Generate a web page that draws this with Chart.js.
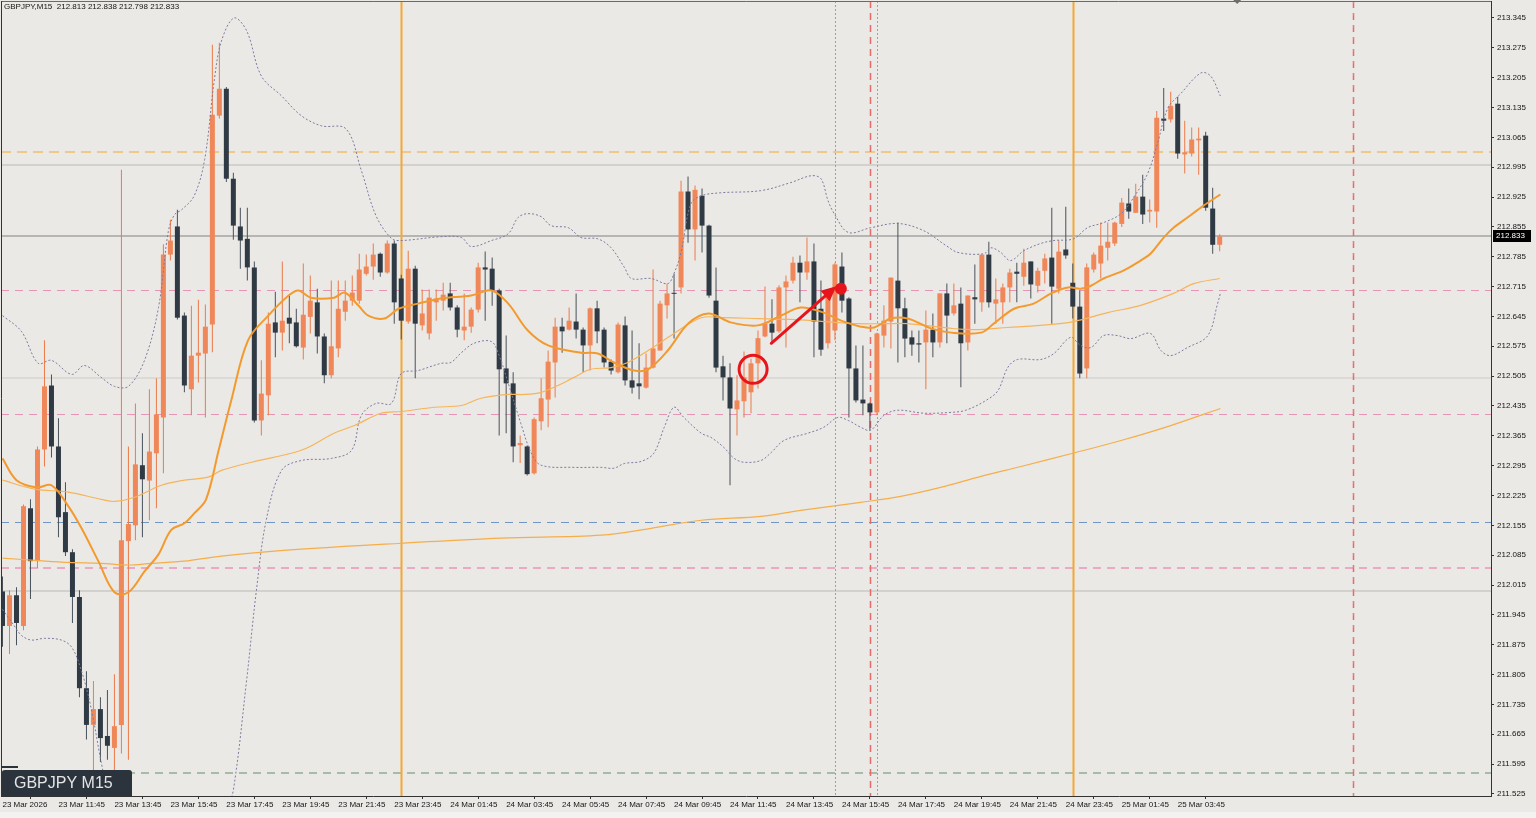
<!DOCTYPE html>
<html><head><meta charset="utf-8">
<script src="https://cdn.jsdelivr.net/npm/chart.js@4.4.1/dist/chart.umd.min.js"></script>
<style>
html,body{margin:0;padding:0;background:#EBE9E5;overflow:hidden;}
canvas{display:block;}
</style></head><body>
<canvas id="c" width="1536" height="818"></canvas>
<script>
// ---------------- DATA ----------------
const symbolTitle = 'GBPJPY,M15  212.813 212.838 212.798 212.833';
const symbolLabel = 'GBPJPY M15';

const opens = [212.000,211.919,211.991,211.919,212.195,212.071,212.333,212.483,212.340,212.186,
212.092,211.987,211.773,211.687,211.724,211.661,211.633,211.687,212.118,212.155,
212.296,212.260,212.324,212.408,212.790,212.856,212.647,212.474,212.553,212.558,
212.626,213.116,213.179,212.968,212.856,212.827,212.760,212.401,212.460,212.631,
212.607,212.642,212.631,212.572,212.644,212.678,212.598,212.507,212.570,212.656,
212.682,212.682,212.745,212.762,212.792,212.748,212.816,212.734,212.633,212.757,
212.624,212.605,212.678,212.682,212.699,212.666,212.612,212.621,212.661,212.760,
212.757,212.706,212.523,212.488,212.343,212.340,212.277,212.399,212.450,212.537,
212.621,212.614,212.633,212.614,212.577,212.664,212.614,212.539,212.514,212.624,
212.495,212.488,212.478,212.525,212.565,212.671,212.700,212.713,212.938,212.849,
212.928,212.858,212.682,212.528,212.502,212.427,212.446,212.467,212.535,212.598,
212.628,212.610,212.713,212.729,212.771,212.748,212.774,212.663,212.582,212.612,
212.762,212.687,212.523,212.450,212.441,212.420,212.600,212.633,212.729,212.664,
212.596,212.582,212.584,212.614,212.584,212.699,212.652,212.675,212.584,212.690,
212.678,212.790,212.675,212.678,212.713,212.750,212.738,212.774,212.717,212.752,
212.783,212.710,212.802,212.724,212.668,212.523,212.755,212.769,212.806,212.816,
212.862,212.910,212.888,212.926,212.891,212.891,213.109,213.107,213.144,213.025,
213.027,213.058,213.069,212.898,212.813];
const highs = [212.035,212.003,212.010,212.204,212.216,212.340,212.589,212.509,212.406,212.256,
212.099,212.003,211.813,211.790,211.752,211.769,211.806,212.989,212.340,212.441,
212.371,212.474,212.500,212.814,212.872,212.895,212.654,212.670,212.684,212.673,
213.282,213.287,213.183,212.982,212.900,212.900,212.774,212.542,212.654,212.703,
212.774,212.694,212.663,212.769,212.741,212.710,212.605,212.729,212.729,212.729,
212.741,212.792,212.790,212.816,212.795,212.823,212.823,212.743,212.799,212.764,
212.708,212.708,212.708,212.724,212.724,212.671,212.699,212.666,212.771,212.797,
212.783,212.710,212.600,212.514,212.366,212.342,212.408,212.500,212.565,212.642,
212.642,212.666,212.699,212.619,212.666,212.682,212.619,212.544,212.631,212.645,
212.612,212.582,212.558,212.755,212.682,212.722,212.745,212.963,212.973,212.952,
212.945,212.860,212.760,212.553,212.535,212.507,212.563,212.546,212.612,212.715,
212.685,212.718,212.741,212.785,212.788,212.830,212.816,212.729,212.706,212.771,
212.795,212.690,212.577,212.577,212.443,212.607,212.671,212.736,212.865,212.689,
212.612,212.612,212.659,212.652,212.699,212.722,212.722,212.713,212.694,212.767,
212.790,212.820,212.734,212.722,212.757,212.771,212.804,212.774,212.759,212.792,
212.900,212.823,212.902,212.769,212.706,212.769,212.795,212.865,212.865,212.867,
212.923,212.945,212.956,212.977,212.919,213.127,213.181,213.172,213.160,213.104,
213.088,213.088,213.078,212.947,212.838];
const lows = [211.870,211.853,211.874,211.909,211.982,212.054,212.293,212.314,212.127,212.083,
211.926,211.752,211.653,211.560,211.600,211.605,211.567,211.620,211.605,212.120,
212.127,212.167,212.195,212.277,212.776,212.638,212.467,212.413,212.490,212.408,
212.561,213.109,212.960,212.825,212.757,212.729,212.396,212.366,212.413,212.549,
212.565,212.582,212.572,212.544,212.605,212.558,212.488,212.500,212.549,212.635,
212.670,212.675,212.741,212.731,212.738,212.745,212.628,212.591,212.628,212.500,
212.612,212.591,212.635,212.659,212.659,212.596,212.589,212.607,212.654,212.635,
212.670,212.366,212.371,212.303,212.301,212.272,212.274,212.378,212.385,212.455,
212.560,212.612,212.593,212.514,212.518,212.582,212.525,212.509,212.511,212.483,
212.464,212.451,212.476,212.523,212.565,212.640,212.593,212.699,212.818,212.776,
212.795,212.689,212.514,212.448,212.249,212.366,212.408,212.418,212.476,212.596,
212.582,212.607,212.572,212.722,212.678,212.731,212.549,212.553,212.570,212.589,
212.654,212.408,212.443,212.413,212.378,212.413,212.572,212.570,212.537,212.549,
212.553,212.537,212.474,212.549,212.572,212.582,212.647,212.479,212.565,212.628,
212.656,212.666,212.628,212.628,212.678,212.678,212.717,212.687,212.701,212.722,
212.628,212.699,212.780,212.640,212.500,212.500,212.748,212.734,212.776,212.810,
212.855,212.874,212.888,212.862,212.865,212.853,213.080,213.100,213.015,212.980,
213.020,212.977,212.893,212.792,212.798];
const closes = [211.919,211.991,211.926,212.200,212.071,212.333,212.481,212.340,212.174,212.092,
211.987,211.773,211.687,211.724,211.656,211.638,211.684,212.120,212.158,212.298,
212.263,212.328,212.415,212.790,212.823,212.642,212.483,212.553,212.560,212.621,
213.118,213.179,212.968,212.858,212.823,212.760,212.401,212.464,212.628,212.607,
212.635,212.628,212.575,212.649,212.682,212.598,212.507,212.575,212.663,212.682,
212.701,212.755,212.762,212.790,212.748,212.816,212.678,212.635,212.757,212.628,
212.652,212.689,212.687,212.696,212.666,212.614,212.621,212.661,212.760,212.755,
212.706,212.521,212.488,212.340,212.348,212.275,212.404,212.453,212.539,212.621,
212.610,212.635,212.614,212.577,212.664,212.610,212.537,212.518,212.626,212.495,
212.478,212.481,212.525,212.570,212.675,212.699,212.698,212.938,212.849,212.942,
212.858,212.694,212.525,212.502,212.429,212.448,212.502,212.535,212.594,212.628,
212.607,212.713,212.727,212.771,212.748,212.774,212.633,212.567,212.706,212.767,
212.682,212.523,212.448,212.441,212.420,212.605,212.635,212.736,212.664,212.593,
212.579,212.579,212.614,212.584,212.699,212.647,212.671,212.582,212.694,212.685,
212.790,212.678,212.685,212.713,212.748,212.745,212.771,212.720,212.752,212.781,
212.715,212.797,212.788,212.668,212.511,212.760,212.790,212.811,212.820,212.865,
212.912,212.891,212.926,212.884,212.895,213.111,213.104,213.139,213.027,213.030,
213.060,213.062,212.900,212.813,212.833];

// indicator lines: [bar index, price]
const maFast = [[0,212.312],[2,212.261],[4.9,212.244],[7,212.249],[9.4,212.200],[11.3,212.148],[13.7,212.071],[16,211.998],[18,211.998],[20.3,212.047],[22.3,212.087],[24.1,212.144],[26,212.160],[27.4,212.183],[29.1,212.216],[30.9,212.331],[32.7,212.448],[35.1,212.589],[38,212.647],[40.9,212.694],[42.3,212.706],[44.1,212.689],[47.4,212.689],[48.9,212.701],[50.9,212.670],[52.3,212.647],[54.6,212.640],[56.6,212.663],[59.4,212.675],[62.7,212.687],[67,212.694],[69.9,212.706],[72.3,212.675],[75.1,212.612],[78,212.577],[82.7,212.560],[85.1,212.558],[87.4,212.537],[90.3,212.518],[92.3,212.521],[95.1,212.565],[98,212.628],[100.9,212.652],[104.1,212.631],[108,212.624],[111.3,212.647],[114.1,212.666],[117.4,212.654],[119.9,212.635],[122.7,212.621],[124.6,212.619],[127,212.640],[129.4,212.640],[132.7,212.617],[135.6,212.607],[139.9,212.607],[141.7,212.628],[144.6,212.663],[147.4,212.675],[149.9,212.699],[152.3,212.713],[154.1,212.710],[155.6,212.717],[157.4,212.734],[160.3,212.753],[162.7,212.776],[164.1,212.792],[166,212.830],[167.4,212.853],[169.4,212.877],[171.7,212.905],[174.1,212.931]];
const maMid = [[0,212.261],[4.6,212.240],[9.4,212.233],[14.1,212.216],[16,212.211],[18.9,212.221],[22.7,212.249],[26,212.261],[29.4,212.268],[31.3,212.284],[35.6,212.303],[42.7,212.331],[47.4,212.371],[50.3,212.389],[54.1,212.418],[57,212.422],[61.7,212.432],[65.6,212.436],[68.4,212.453],[72.3,212.462],[74.6,212.462],[77,212.467],[79.4,212.483],[81.7,212.502],[84.1,212.521],[87,212.525],[89.4,212.537],[92.3,212.565],[96,212.605],[99.9,212.642],[103.1,212.642],[108,212.640],[112.7,212.638],[117.4,212.633],[122.3,212.628],[126,212.628],[129.4,212.628],[135.6,212.617],[138.9,212.614],[143.7,212.619],[148.4,212.624],[153.1,212.633],[158,212.654],[162.7,212.671],[167.4,212.699],[170.3,212.722],[174,212.734]];
const maSlow = [[0,212.078],[4.6,212.073],[9.4,212.068],[14.1,212.066],[18,212.062],[21.3,212.066],[26,212.071],[31.3,212.083],[42.7,212.099],[57,212.113],[71.3,212.125],[85.6,212.132],[92.7,212.148],[99.9,212.167],[108.4,212.176],[114.1,212.190],[122.7,212.209],[128.4,212.223],[134.1,212.244],[139.9,212.270],[145.6,212.293],[153,212.324],[159.9,212.354],[167,212.389],[174.1,212.429]];
const bbUpper = [[0,212.647],[2.7,212.610],[5.1,212.535],[7,212.542],[9.9,212.509],[11.7,212.530],[14.1,212.502],[16,212.481],[18,212.481],[20.3,212.542],[22.3,212.666],[23.7,212.844],[24.6,212.884],[25.6,212.895],[27.4,212.928],[28.9,213.013],[30.3,213.202],[31.3,213.291],[33.1,213.345],[34.9,213.315],[37,213.209],[39.9,213.162],[42.7,213.116],[45.6,213.092],[49.1,213.085],[51.3,212.987],[53.4,212.881],[55.6,212.828],[57,212.823],[62.7,212.832],[65.6,212.830],[67,212.809],[69.9,212.823],[72.3,212.839],[73.7,212.877],[75.1,212.886],[77,212.879],[78.4,212.858],[80.9,212.853],[82.7,212.830],[85.1,212.827],[87,212.806],[88.9,212.760],[89.9,212.734],[92.7,212.734],[95.1,212.722],[96,212.746],[97,212.795],[98.4,212.909],[99.9,212.928],[102.7,212.935],[108.4,212.940],[112.7,212.959],[115.6,212.975],[117,212.968],[118,212.917],[118.9,212.886],[120.9,212.842],[124.1,212.853],[128,212.863],[131.7,212.846],[134.9,212.811],[136.6,212.795],[140.3,212.792],[141.3,212.806],[142.7,212.795],[144.1,212.776],[146,212.799],[148.4,212.816],[150.3,212.823],[153.1,212.827],[155.1,212.853],[157.4,212.865],[159.9,212.886],[161.7,212.924],[163.7,212.980],[165.1,213.050],[166.6,213.134],[168.4,213.167],[171.3,213.216],[172.7,213.209],[174.1,213.162]];
const bbLower = [[0,211.958],[1.7,211.919],[2.7,211.897],[4.1,211.886],[6,211.890],[8.4,211.886],[9.9,211.869],[11.3,211.813],[12.7,211.724],[14.1,211.600],[15.3,211.511],[17,211.417],[19.9,211.324],[23.4,211.277],[27,211.300],[29.9,211.394],[32,211.488],[33,211.534],[34.9,211.792],[36.3,212.003],[37.7,212.167],[39.9,212.284],[42.7,212.307],[47,212.312],[49.9,212.331],[51.3,212.413],[53.4,212.441],[55.6,212.441],[57,212.511],[59.4,212.518],[62.7,212.535],[64.1,212.537],[65.6,212.560],[67.4,212.582],[69.9,212.586],[71,212.553],[72.3,212.488],[74.1,212.394],[75.6,212.324],[77,212.296],[81.7,212.291],[85.6,212.291],[87.4,212.289],[88.9,212.300],[91.3,212.305],[93.1,212.324],[94.6,212.385],[96,212.432],[97.4,212.408],[99.9,212.371],[101.3,212.361],[103.1,212.338],[104.6,212.312],[106,212.303],[108.4,212.307],[109.9,212.326],[111.7,212.354],[115.1,212.371],[117.4,212.385],[119.4,212.408],[120.9,212.401],[122.7,212.385],[124.1,212.378],[126,212.413],[128,212.425],[131.7,212.418],[135.6,212.420],[137.7,212.425],[140.6,212.448],[142.3,212.471],[143.7,212.525],[145.1,212.544],[148.4,212.544],[150.3,212.558],[152.7,212.596],[154.1,212.577],[155.6,212.572],[157.4,212.600],[159.4,212.600],[161.3,212.593],[164.1,212.605],[165.6,212.565],[167,212.553],[169.4,212.572],[172.3,212.600],[173.7,212.675],[174.1,212.699]];

// horizontal levels (prices) and vertical markers (bar indexes)
const hLevels = [213.031, 213.000, 212.833, 212.708, 212.500, 212.415, 212.162, 212.054, 212.000, 211.574];
const daySeparators = [57, 153];
const dottedMarkers = [119, 125];
const redMarkers = [124, 193];

// annotation anchors [bar index, price]
const circleAt = [107.3, 212.521];
const arrowFrom = [109.9, 212.582];
const arrowTo = [119.2, 212.716];
const dotAt = [119.85, 212.710];
const shiftMarkerIdx = 176.5;

// axis ticks
const xTickIdx = [0,8,16,24,32,40,48,56,64,72,80,88,96,104,112,120,128,136,144,152,160,168];
const xTickLabels = ['23 Mar 2026','23 Mar 11:45','23 Mar 13:45','23 Mar 15:45','23 Mar 17:45','23 Mar 19:45','23 Mar 21:45','23 Mar 23:45','24 Mar 01:45','24 Mar 03:45','24 Mar 05:45','24 Mar 07:45','24 Mar 09:45','24 Mar 11:45','24 Mar 13:45','24 Mar 15:45','24 Mar 17:45','24 Mar 19:45','24 Mar 21:45','24 Mar 23:45','25 Mar 01:45','25 Mar 03:45'];
const yTicks = [211.525,211.595,211.665,211.735,211.805,211.875,211.945,212.015,212.085,212.155,212.225,212.295,212.365,212.435,212.505,212.575,212.645,212.715,212.785,212.855,212.925,212.995,213.065,213.135,213.205,213.275,213.345];

// ---------------- STYLE ----------------
const BG = '#EBE9E5';
const UP = '#EF8759', UP_W = '#EC7A48';
const DN = '#2F3A45', DN_W = '#48515A';
const FONT = '"Liberation Sans", Arial, sans-serif';
const TXT = '#141414';
const PX_PER_BAR = 7, X0 = 1.5;          // pixel of bar 0
const PX_PER_UNIT = 426.9, P0 = 213.3848; // price at pixel row 0

const isUp = closes.map((c, i) => c > opens[i]);
const pts = arr => arr.map(p => ({x: p[0], y: p[1]}));

const hStyles = [
  {c:'#F4BD6C', w:1.5, d:[10,6]}, {c:'#D3D1CD', w:2, d:[]}, {c:'#A3A3A3', w:1.5, d:[]},
  {c:'#E596B6', w:1, d:[8,6]}, {c:'#D6D4D0', w:1.5, d:[]}, {c:'#E596B6', w:1, d:[8,6]},
  {c:'#7095C4', w:1, d:[8,6]}, {c:'#EE92BA', w:1.5, d:[8,6]}, {c:'#D3D1CD', w:2, d:[]},
  {c:'#8FAE92', w:1.5, d:[8,6]}
];

const overlay = {
  id: 'overlay',
  beforeDraw(chart) {
    const c = chart.ctx;
    c.save();
    c.fillStyle = BG;
    c.fillRect(0, 0, chart.width, chart.height);
    c.fillStyle = '#F3F2F0';
    c.fillRect(0, 812, chart.width, 6);
    c.restore();
  },
  beforeDatasetsDraw(chart) {
    const c = chart.ctx, a = chart.chartArea, xs = chart.scales.x, ys = chart.scales.y;
    c.save();
    c.beginPath(); c.rect(a.left, a.top, a.right - a.left, a.bottom - a.top); c.clip();
    hLevels.forEach((p, k) => {
      const st = hStyles[k];
      const y = Math.round(ys.getPixelForValue(p)) + (st.w === 1 ? 0.5 : 0);
      c.strokeStyle = st.c; c.lineWidth = st.w; c.setLineDash(st.d);
      c.beginPath(); c.moveTo(a.left, y); c.lineTo(a.right, y); c.stroke();
    });
    const vline = (i, col, w, dash) => {
      const x = Math.round(xs.getPixelForValue(i)) + 0.5;
      c.strokeStyle = col; c.lineWidth = w; c.setLineDash(dash);
      c.beginPath(); c.moveTo(x, a.top); c.lineTo(x, a.bottom); c.stroke();
    };
    daySeparators.forEach(i => vline(i, '#F5A733', 2, []));
    dottedMarkers.forEach(i => vline(i, '#A0A0A0', 1, [2,2]));
    redMarkers.forEach(i => vline(i, '#E86A6A', 1.5, [7,5]));
    vline(redMarkers[1], '#9A9A9A', 1, [3,9]);
    c.restore();
  },
  afterDatasetsDraw(chart) {
    const c = chart.ctx, xs = chart.scales.x, ys = chart.scales.y;
    const P = q => [xs.getPixelForValue(q[0]), ys.getPixelForValue(q[1])];
    c.save();
    const red = '#E8141C';
    let [cx, cy] = P(circleAt);
    c.strokeStyle = red; c.lineWidth = 3;
    c.beginPath(); c.arc(cx, cy, 14, 0, Math.PI * 2); c.stroke();
    const [ax, ay] = P(arrowFrom), [bx, by] = P(arrowTo);
    const ang = Math.atan2(by - ay, bx - ax);
    const hl = 15, hw = 7;
    const baseX = bx - hl * Math.cos(ang), baseY = by - hl * Math.sin(ang);
    c.lineWidth = 3; c.lineCap = 'round';
    c.beginPath(); c.moveTo(ax, ay); c.lineTo(baseX, baseY); c.stroke();
    c.fillStyle = red;
    c.beginPath();
    c.moveTo(bx, by);
    c.lineTo(baseX + hw * Math.sin(ang), baseY - hw * Math.cos(ang));
    c.lineTo(baseX - hw * Math.sin(ang), baseY + hw * Math.cos(ang));
    c.closePath(); c.fill();
    const [dx, dy] = P(dotAt);
    c.beginPath(); c.arc(dx, dy, 6, 0, Math.PI * 2); c.fill();
    c.restore();
  },
  afterDraw(chart) {
    const c = chart.ctx, a = chart.chartArea, xs = chart.scales.x, ys = chart.scales.y;
    c.save();
    c.strokeStyle = '#6A6A6A'; c.lineWidth = 1; c.setLineDash([]);
    c.beginPath();
    c.moveTo(a.left + 0.5, a.top + 0.5); c.lineTo(a.right, a.top + 0.5);
    c.stroke();
    c.strokeStyle = '#333';
    c.beginPath(); c.moveTo(a.left + 0.5, a.top); c.lineTo(a.left + 0.5, a.bottom); c.stroke();
    c.fillStyle = TXT; c.font = '8px ' + FONT; c.textBaseline = 'middle'; c.textAlign = 'left';
    c.fillText(symbolTitle, 4, 7);
    const sx = xs.getPixelForValue(shiftMarkerIdx);
    c.fillStyle = '#6E6E6E';
    c.beginPath(); c.moveTo(sx - 4, 0); c.lineTo(sx + 4, 0); c.lineTo(sx, 4); c.closePath(); c.fill();
    const last = closes[closes.length - 1];
    const py = Math.round(ys.getPixelForValue(last));
    c.fillStyle = '#000';
    c.fillRect(a.right + 2, py - 6, 38, 12);
    c.fillStyle = '#FFFFFF'; c.font = '8px ' + FONT;
    c.fillText(last.toFixed(3), a.right + 5, py);
    c.fillStyle = '#2B333C';
    c.fillRect(2, 766, 16, 2);
    c.beginPath();
    c.moveTo(2, a.bottom); c.lineTo(2, 772); c.quadraticCurveTo(2, 770, 5, 770);
    c.lineTo(129, 770); c.quadraticCurveTo(132, 770, 132, 773); c.lineTo(132, a.bottom); c.closePath();
    c.fill();
    c.fillStyle = '#E4E4E4'; c.font = '16px ' + FONT; c.textBaseline = 'middle';
    c.fillText(symbolLabel, 14, 783.5);
    c.restore();
  }
};

const ctx = document.getElementById('c').getContext('2d');
const chart = new Chart(ctx, {
  type: 'bar',
  data: {
    datasets: [
      { type: 'line', label: 'MA fast', data: pts(maFast), borderColor: '#F39A2E', borderWidth: 2, pointRadius: 0, tension: 0.35, order: 0 },
      { type: 'line', label: 'MA mid', data: pts(maMid), borderColor: '#F6B45A', borderWidth: 1.2, pointRadius: 0, tension: 0.35, order: 0 },
      { type: 'line', label: 'MA slow', data: pts(maSlow), borderColor: '#F5AE4A', borderWidth: 1.2, pointRadius: 0, tension: 0.35, order: 0 },
      { type: 'line', label: 'BB up', data: pts(bbUpper), borderColor: '#7E7AA2', borderWidth: 1, borderDash: [2,2], pointRadius: 0, tension: 0.35, order: 0 },
      { type: 'line', label: 'BB low', data: pts(bbLower), borderColor: '#7E7AA2', borderWidth: 1, borderDash: [2,2], pointRadius: 0, tension: 0.35, order: 0 },
      { type: 'bar', label: 'wick', data: lows.map((l, i) => ({x: i, y: [l, highs[i]]})),
        backgroundColor: isUp.map(u => u ? UP_W : DN_W), barThickness: 1, grouped: false, minBarLength: 1,
        borderWidth: 0, inflateAmount: 0, order: 2 },
      { type: 'bar', label: 'body', data: opens.map((o, i) => ({x: i, y: [o, closes[i]]})),
        backgroundColor: isUp.map(u => u ? UP : DN), barThickness: 5, grouped: false, minBarLength: 1,
        borderWidth: 0, inflateAmount: 0, order: 1 }
    ]
  },
  options: {
    responsive: false,
    animation: false,
    devicePixelRatio: 1,
    layout: { padding: 0 },
    plugins: { legend: { display: false }, tooltip: { enabled: false } },
    scales: {
      x: {
        type: 'linear', min: -0.2143, max: 212.786, offset: false,
        afterBuildTicks: s => { s.ticks = xTickIdx.map(v => ({value: v})); },
        afterFit: s => { s.height = 22; s.paddingLeft = 0; s.paddingRight = 0; },
        ticks: { align: 'start', autoSkip: false, maxRotation: 0, minRotation: 0, padding: 1,
          color: TXT, font: { family: FONT, size: 8 },
          callback: (v, i) => xTickLabels[i] },
        grid: { drawOnChartArea: false, drawTicks: true, tickLength: 3, color: '#333' },
        border: { display: true, color: '#333', width: 1 }
      },
      y: {
        type: 'linear', position: 'right', min: 211.5203, max: 213.3848,
        afterBuildTicks: s => { s.ticks = yTicks.map(v => ({value: v})); },
        afterFit: s => { s.width = 45; s.paddingTop = 0; s.paddingBottom = 0; },
        ticks: { padding: 3, color: TXT, font: { family: FONT, size: 8 },
          callback: v => Number(v).toFixed(3) },
        grid: { drawOnChartArea: false, drawTicks: true, tickLength: 3, color: '#333' },
        border: { display: true, color: '#333', width: 1 }
      }
    }
  },
  plugins: [overlay]
});

const a = chart.chartArea;
chart.options.scales.x.min = (a.left - X0) / PX_PER_BAR;
chart.options.scales.x.max = (a.right - X0) / PX_PER_BAR;
chart.options.scales.y.min = P0 - a.bottom / PX_PER_UNIT;
chart.options.scales.y.max = P0 - a.top / PX_PER_UNIT;
chart.update('none');
</script>
</body></html>
